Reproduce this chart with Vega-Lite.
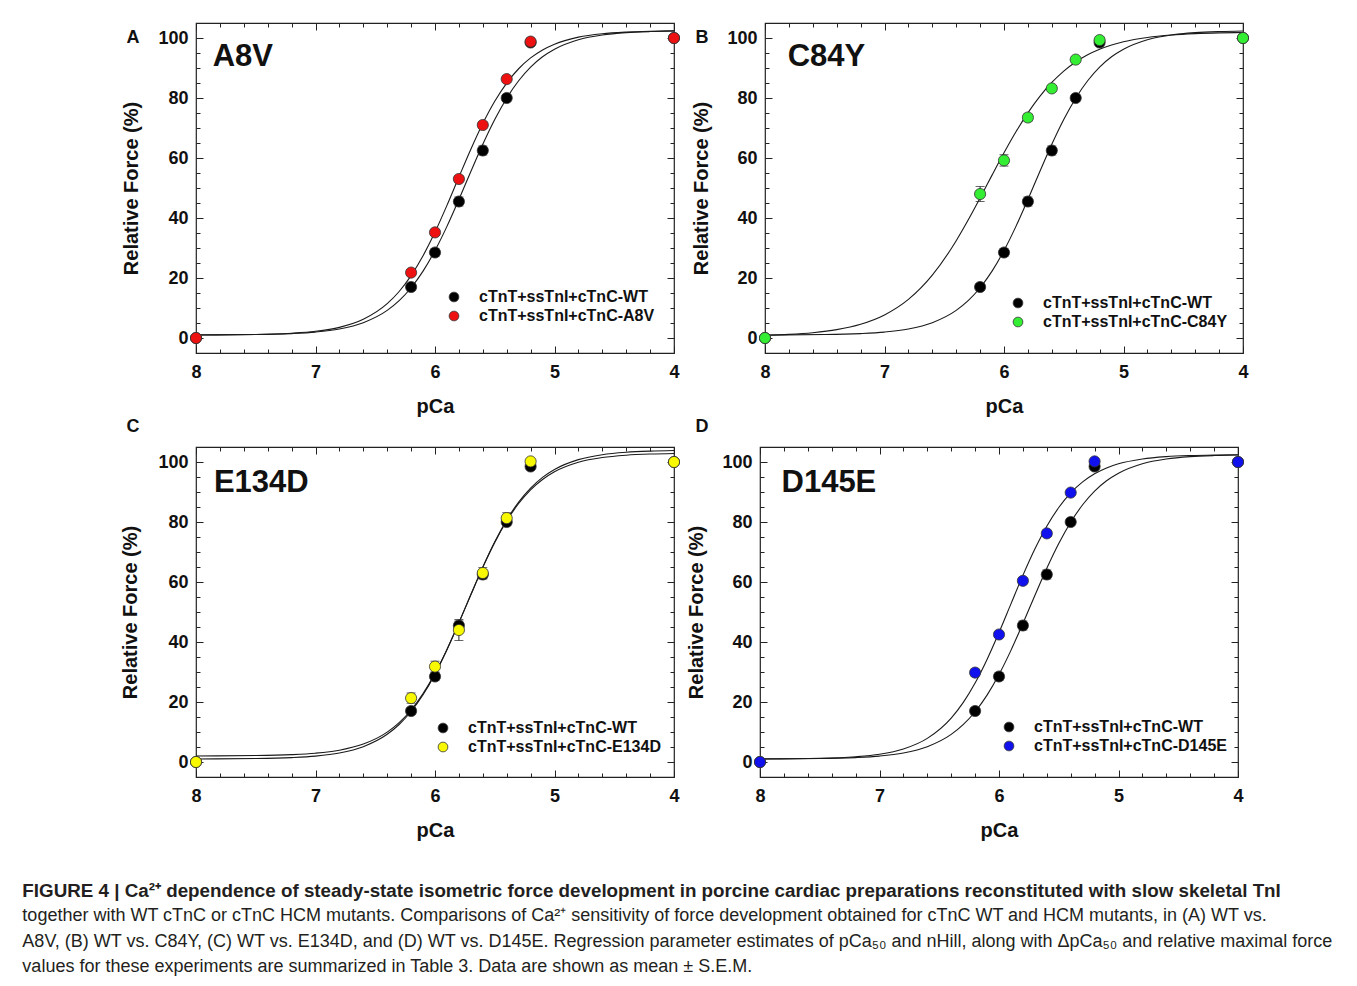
{
  "$schema": "https://vega.github.io/schema/vega-lite/v6.json",
  "padding": {"left": 22, "top": 21, "right": 5, "bottom": 5},
  "background": "white",
  "datasets": {
    "curves": [
      {"p":"ABD","c":"wt","x":8,"y":1.02},{"p":"ABD","c":"wt","x":7.5,"y":1.15},{"p":"ABD","c":"wt","x":7.2,"y":1.47},{"p":"ABD","c":"wt","x":7,"y":1.97},{"p":"ABD","c":"wt","x":6.8,"y":3.0},{"p":"ABD","c":"wt","x":6.6,"y":5.1},{"p":"ABD","c":"wt","x":6.4,"y":9.2},{"p":"ABD","c":"wt","x":6.3,"y":12.44},{"p":"ABD","c":"wt","x":6.2,"y":16.75},{"p":"ABD","c":"wt","x":6.1,"y":22.29},{"p":"ABD","c":"wt","x":6,"y":29.15},{"p":"ABD","c":"wt","x":5.9,"y":37.21},{"p":"ABD","c":"wt","x":5.8,"y":46.17},{"p":"ABD","c":"wt","x":5.7,"y":55.48},{"p":"ABD","c":"wt","x":5.6,"y":64.56},{"p":"ABD","c":"wt","x":5.5,"y":72.83},{"p":"ABD","c":"wt","x":5.4,"y":79.94},{"p":"ABD","c":"wt","x":5.3,"y":85.74},{"p":"ABD","c":"wt","x":5.2,"y":90.29},{"p":"ABD","c":"wt","x":5.1,"y":93.73},{"p":"ABD","c":"wt","x":5,"y":96.26},{"p":"ABD","c":"wt","x":4.8,"y":99.42},{"p":"ABD","c":"wt","x":4.6,"y":101.0},{"p":"ABD","c":"wt","x":4.4,"y":101.78},{"p":"ABD","c":"wt","x":4.2,"y":102.15},{"p":"ABD","c":"wt","x":4,"y":102.33},
      {"p":"A","c":"mut","x":8,"y":1.03},{"p":"A","c":"mut","x":7.5,"y":1.19},{"p":"A","c":"mut","x":7.2,"y":1.59},{"p":"A","c":"mut","x":7,"y":2.23},{"p":"A","c":"mut","x":6.8,"y":3.55},{"p":"A","c":"mut","x":6.6,"y":6.24},{"p":"A","c":"mut","x":6.4,"y":11.45},{"p":"A","c":"mut","x":6.3,"y":15.5},{"p":"A","c":"mut","x":6.2,"y":20.79},{"p":"A","c":"mut","x":6.1,"y":27.4},{"p":"A","c":"mut","x":6,"y":35.3},{"p":"A","c":"mut","x":5.9,"y":44.21},{"p":"A","c":"mut","x":5.8,"y":53.65},{"p":"A","c":"mut","x":5.7,"y":62.93},{"p":"A","c":"mut","x":5.6,"y":71.49},{"p":"A","c":"mut","x":5.5,"y":78.9},{"p":"A","c":"mut","x":5.4,"y":84.97},{"p":"A","c":"mut","x":5.3,"y":89.75},{"p":"A","c":"mut","x":5.2,"y":93.36},{"p":"A","c":"mut","x":5.1,"y":96.02},{"p":"A","c":"mut","x":5,"y":97.95},{"p":"A","c":"mut","x":4.8,"y":100.29},{"p":"A","c":"mut","x":4.6,"y":101.44},{"p":"A","c":"mut","x":4.4,"y":101.99},{"p":"A","c":"mut","x":4.2,"y":102.26},{"p":"A","c":"mut","x":4,"y":102.39},
      {"p":"B","c":"mut","x":8,"y":0.89},{"p":"B","c":"mut","x":7.8,"y":1.2},{"p":"B","c":"mut","x":7.6,"y":1.77},{"p":"B","c":"mut","x":7.4,"y":2.78},{"p":"B","c":"mut","x":7.2,"y":4.58},{"p":"B","c":"mut","x":7,"y":7.69},{"p":"B","c":"mut","x":6.8,"y":12.86},{"p":"B","c":"mut","x":6.6,"y":20.95},{"p":"B","c":"mut","x":6.4,"y":32.44},{"p":"B","c":"mut","x":6.3,"y":39.33},{"p":"B","c":"mut","x":6.2,"y":46.7},{"p":"B","c":"mut","x":6.1,"y":54.29},{"p":"B","c":"mut","x":6,"y":61.73},{"p":"B","c":"mut","x":5.9,"y":68.74},{"p":"B","c":"mut","x":5.8,"y":75.06},{"p":"B","c":"mut","x":5.7,"y":80.55},{"p":"B","c":"mut","x":5.6,"y":85.18},{"p":"B","c":"mut","x":5.5,"y":88.98},{"p":"B","c":"mut","x":5.4,"y":92.01},{"p":"B","c":"mut","x":5.3,"y":94.4},{"p":"B","c":"mut","x":5.2,"y":96.25},{"p":"B","c":"mut","x":5.1,"y":97.68},{"p":"B","c":"mut","x":5,"y":98.76},{"p":"B","c":"mut","x":4.8,"y":100.19},{"p":"B","c":"mut","x":4.6,"y":101.0},{"p":"B","c":"mut","x":4.4,"y":101.45},{"p":"B","c":"mut","x":4.2,"y":101.7},{"p":"B","c":"mut","x":4,"y":101.83},
      {"p":"C","c":"wt","x":8,"y":1.02},{"p":"C","c":"wt","x":7.5,"y":1.16},{"p":"C","c":"wt","x":7.2,"y":1.47},{"p":"C","c":"wt","x":7,"y":1.97},{"p":"C","c":"wt","x":6.8,"y":3.01},{"p":"C","c":"wt","x":6.6,"y":5.12},{"p":"C","c":"wt","x":6.4,"y":9.24},{"p":"C","c":"wt","x":6.3,"y":12.5},{"p":"C","c":"wt","x":6.2,"y":16.83},{"p":"C","c":"wt","x":6.1,"y":22.4},{"p":"C","c":"wt","x":6,"y":29.29},{"p":"C","c":"wt","x":5.9,"y":37.39},{"p":"C","c":"wt","x":5.8,"y":46.39},{"p":"C","c":"wt","x":5.7,"y":55.75},{"p":"C","c":"wt","x":5.6,"y":64.87},{"p":"C","c":"wt","x":5.5,"y":73.19},{"p":"C","c":"wt","x":5.4,"y":80.33},{"p":"C","c":"wt","x":5.3,"y":86.16},{"p":"C","c":"wt","x":5.2,"y":90.73},{"p":"C","c":"wt","x":5.1,"y":94.18},{"p":"C","c":"wt","x":5,"y":96.73},{"p":"C","c":"wt","x":4.8,"y":99.9},{"p":"C","c":"wt","x":4.6,"y":101.49},{"p":"C","c":"wt","x":4.4,"y":102.27},{"p":"C","c":"wt","x":4.2,"y":102.65},{"p":"C","c":"wt","x":4,"y":102.83},
      {"p":"C","c":"mut","x":8,"y":2.02},{"p":"C","c":"mut","x":7.5,"y":2.15},{"p":"C","c":"mut","x":7.2,"y":2.45},{"p":"C","c":"mut","x":7,"y":2.94},{"p":"C","c":"mut","x":6.8,"y":3.94},{"p":"C","c":"mut","x":6.6,"y":5.98},{"p":"C","c":"mut","x":6.4,"y":9.96},{"p":"C","c":"mut","x":6.3,"y":13.13},{"p":"C","c":"mut","x":6.2,"y":17.34},{"p":"C","c":"mut","x":6.1,"y":22.78},{"p":"C","c":"mut","x":6,"y":29.54},{"p":"C","c":"mut","x":5.9,"y":37.53},{"p":"C","c":"mut","x":5.8,"y":46.46},{"p":"C","c":"mut","x":5.7,"y":55.81},{"p":"C","c":"mut","x":5.6,"y":64.99},{"p":"C","c":"mut","x":5.5,"y":73.4},{"p":"C","c":"mut","x":5.4,"y":80.67},{"p":"C","c":"mut","x":5.3,"y":86.64},{"p":"C","c":"mut","x":5.2,"y":91.32},{"p":"C","c":"mut","x":5.1,"y":94.89},{"p":"C","c":"mut","x":5,"y":97.51},{"p":"C","c":"mut","x":4.8,"y":100.79},{"p":"C","c":"mut","x":4.6,"y":102.44},{"p":"C","c":"mut","x":4.4,"y":103.25},{"p":"C","c":"mut","x":4.2,"y":103.64},{"p":"C","c":"mut","x":4,"y":103.83},
      {"p":"D","c":"mut","x":8,"y":1.04},{"p":"D","c":"mut","x":7.5,"y":1.24},{"p":"D","c":"mut","x":7.2,"y":1.75},{"p":"D","c":"mut","x":7,"y":2.59},{"p":"D","c":"mut","x":6.8,"y":4.34},{"p":"D","c":"mut","x":6.6,"y":7.88},{"p":"D","c":"mut","x":6.4,"y":14.65},{"p":"D","c":"mut","x":6.3,"y":19.79},{"p":"D","c":"mut","x":6.2,"y":26.31},{"p":"D","c":"mut","x":6.1,"y":34.18},{"p":"D","c":"mut","x":6,"y":43.15},{"p":"D","c":"mut","x":5.9,"y":52.7},{"p":"D","c":"mut","x":5.8,"y":62.2},{"p":"D","c":"mut","x":5.7,"y":70.97},{"p":"D","c":"mut","x":5.6,"y":78.59},{"p":"D","c":"mut","x":5.5,"y":84.83},{"p":"D","c":"mut","x":5.4,"y":89.72},{"p":"D","c":"mut","x":5.3,"y":93.39},{"p":"D","c":"mut","x":5.2,"y":96.09},{"p":"D","c":"mut","x":5.1,"y":98.02},{"p":"D","c":"mut","x":5,"y":99.4},{"p":"D","c":"mut","x":4.8,"y":101.02},{"p":"D","c":"mut","x":4.6,"y":101.8},{"p":"D","c":"mut","x":4.4,"y":102.17},{"p":"D","c":"mut","x":4.2,"y":102.35},{"p":"D","c":"mut","x":4,"y":102.43}
    ],
    "points": [
      {"p":"ABCD","s":"cTnT+ssTnI+cTnC-WT","x":8,"y":0,"lo":0,"hi":0},
      {"p":"ABCD","s":"cTnT+ssTnI+cTnC-WT","x":6.2,"y":17,"lo":15.8,"hi":18.2},
      {"p":"ABCD","s":"cTnT+ssTnI+cTnC-WT","x":6,"y":28.5,"lo":27.2,"hi":29.8},
      {"p":"ABCD","s":"cTnT+ssTnI+cTnC-WT","x":5.8,"y":45.5,"lo":44,"hi":47},
      {"p":"ABCD","s":"cTnT+ssTnI+cTnC-WT","x":5.6,"y":62.5,"lo":61,"hi":64},
      {"p":"ABCD","s":"cTnT+ssTnI+cTnC-WT","x":5.4,"y":80,"lo":78.8,"hi":81.2},
      {"p":"ABCD","s":"cTnT+ssTnI+cTnC-WT","x":5.2,"y":98.5,"lo":97.5,"hi":99.5},
      {"p":"ABCD","s":"cTnT+ssTnI+cTnC-WT","x":4,"y":100,"lo":100,"hi":100},
      {"p":"A","s":"cTnT+ssTnI+cTnC-A8V","x":8,"y":0,"lo":0,"hi":0},
      {"p":"A","s":"cTnT+ssTnI+cTnC-A8V","x":6.2,"y":21.8,"lo":20.8,"hi":22.8},
      {"p":"A","s":"cTnT+ssTnI+cTnC-A8V","x":6,"y":35.2,"lo":34.2,"hi":36.2},
      {"p":"A","s":"cTnT+ssTnI+cTnC-A8V","x":5.8,"y":53,"lo":52,"hi":54},
      {"p":"A","s":"cTnT+ssTnI+cTnC-A8V","x":5.6,"y":71,"lo":70,"hi":72},
      {"p":"A","s":"cTnT+ssTnI+cTnC-A8V","x":5.4,"y":86.3,"lo":85.3,"hi":87.3},
      {"p":"A","s":"cTnT+ssTnI+cTnC-A8V","x":5.2,"y":98.8,"lo":97.6,"hi":100},
      {"p":"A","s":"cTnT+ssTnI+cTnC-A8V","x":4,"y":100,"lo":100,"hi":100},
      {"p":"B","s":"cTnT+ssTnI+cTnC-C84Y","x":8,"y":0,"lo":0,"hi":0},
      {"p":"B","s":"cTnT+ssTnI+cTnC-C84Y","x":6.2,"y":48,"lo":45.5,"hi":50.5},
      {"p":"B","s":"cTnT+ssTnI+cTnC-C84Y","x":6,"y":59.2,"lo":57.3,"hi":61.1},
      {"p":"B","s":"cTnT+ssTnI+cTnC-C84Y","x":5.8,"y":73.5,"lo":72.3,"hi":74.7},
      {"p":"B","s":"cTnT+ssTnI+cTnC-C84Y","x":5.6,"y":83.2,"lo":82.2,"hi":84.2},
      {"p":"B","s":"cTnT+ssTnI+cTnC-C84Y","x":5.4,"y":92.8,"lo":92,"hi":93.6},
      {"p":"B","s":"cTnT+ssTnI+cTnC-C84Y","x":5.2,"y":99.3,"lo":98.3,"hi":100.3},
      {"p":"B","s":"cTnT+ssTnI+cTnC-C84Y","x":4,"y":100,"lo":100,"hi":100},
      {"p":"C","s":"cTnT+ssTnI+cTnC-E134D","x":8,"y":0,"lo":0,"hi":0},
      {"p":"C","s":"cTnT+ssTnI+cTnC-E134D","x":6.2,"y":21.3,"lo":19.6,"hi":23},
      {"p":"C","s":"cTnT+ssTnI+cTnC-E134D","x":6,"y":31.8,"lo":30,"hi":33.6},
      {"p":"C","s":"cTnT+ssTnI+cTnC-E134D","x":5.8,"y":44,"lo":40.5,"hi":47.5},
      {"p":"C","s":"cTnT+ssTnI+cTnC-E134D","x":5.6,"y":63,"lo":61.2,"hi":64.8},
      {"p":"C","s":"cTnT+ssTnI+cTnC-E134D","x":5.4,"y":81.3,"lo":79.5,"hi":83.1},
      {"p":"C","s":"cTnT+ssTnI+cTnC-E134D","x":5.2,"y":100.2,"lo":99.4,"hi":101},
      {"p":"C","s":"cTnT+ssTnI+cTnC-E134D","x":4,"y":100,"lo":100,"hi":100},
      {"p":"D","s":"cTnT+ssTnI+cTnC-D145E","x":8,"y":0,"lo":0,"hi":0},
      {"p":"D","s":"cTnT+ssTnI+cTnC-D145E","x":6.2,"y":29.8,"lo":28.6,"hi":31},
      {"p":"D","s":"cTnT+ssTnI+cTnC-D145E","x":6,"y":42.5,"lo":41.5,"hi":43.5},
      {"p":"D","s":"cTnT+ssTnI+cTnC-D145E","x":5.8,"y":60.4,"lo":59.4,"hi":61.4},
      {"p":"D","s":"cTnT+ssTnI+cTnC-D145E","x":5.6,"y":76.2,"lo":75.2,"hi":77.2},
      {"p":"D","s":"cTnT+ssTnI+cTnC-D145E","x":5.4,"y":89.8,"lo":89,"hi":90.6},
      {"p":"D","s":"cTnT+ssTnI+cTnC-D145E","x":5.2,"y":100.2,"lo":99.7,"hi":100.7},
      {"p":"D","s":"cTnT+ssTnI+cTnC-D145E","x":4,"y":100,"lo":100,"hi":100}
    ]
  },
  "title": {
    "text": ["FIGURE 4 | Ca²⁺ dependence of steady-state isometric force development in porcine cardiac preparations reconstituted with slow skeletal TnI"],
    "subtitle": [
      "together with WT cTnC or cTnC HCM mutants. Comparisons of Ca²⁺ sensitivity of force development obtained for cTnC WT and HCM mutants, in (A) WT vs.",
      "A8V, (B) WT vs. C84Y, (C) WT vs. E134D, and (D) WT vs. D145E. Regression parameter estimates of pCa₅₀ and nHill, along with ΔpCa₅₀ and relative maximal force",
      "values for these experiments are summarized in Table 3. Data are shown as mean ± S.E.M."
    ],
    "orient": "bottom", "anchor": "start", "frame": "bounds", "dx": -98, "offset": 41,
    "font": "Liberation Sans", "fontSize": 18.8, "fontWeight": "bold", "color": "#231f20",
    "subtitleFont": "Liberation Sans", "subtitleFontSize": 18, "subtitleFontWeight": "normal", "subtitleColor": "#231f20",
    "subtitleLineHeight": 25.5, "subtitlePadding": 7, "lineHeight": 25.5
  },
  "vconcat": [
    {
      "hconcat": [
        {
          "width": 478, "height": 330,
          "layer": [
            {"data": {"name": "curves"}, "transform": [{"filter": "indexof(datum.p,'A')>=0"}],
             "mark": {"type": "line", "interpolate": "monotone", "color": "#1a1a1a", "strokeWidth": 1.1},
             "encoding": {
               "x": {"field": "x", "type": "quantitative", "scale": {"domain": [4, 8], "reverse": true, "nice": false, "zero": false},
                     "axis": {"orient": "bottom", "values": [4,5,6,7,8], "tickSize": 7, "offset": -7, "labelPadding": 10, "labelFlush": false, "title": "pCa", "titlePadding": 15}},
               "y": {"field": "y", "type": "quantitative", "scale": {"domain": [-5, 105], "nice": false, "zero": false},
                     "axis": {"orient": "left", "values": [0,20,40,60,80,100], "tickSize": 7, "offset": -7, "labelPadding": 8, "title": "Relative Force (%)", "titlePadding": 16}},
               "detail": {"field": "c"}}},
            {"data": {"name": "points"}, "transform": [{"filter": "indexof(datum.p,'A')>=0"}],
             "mark": {"type": "rule", "color": "#222", "strokeWidth": 1},
             "encoding": {
               "x": {"field": "x", "type": "quantitative", "axis": {"orient": "bottom", "values": [4.2,4.4,4.6,4.8,5.2,5.4,5.6,5.8,6.2,6.4,6.6,6.8,7.2,7.4,7.6,7.8], "tickSize": 4, "offset": -4, "labels": false, "title": null}},
               "y": {"field": "lo", "type": "quantitative", "axis": {"orient": "left", "values": [5,10,15,25,30,35,45,50,55,65,70,75,85,90,95], "tickSize": 4, "offset": -4, "labels": false, "title": null}},
               "y2": {"field": "hi"}}},
            {"data": {"name": "points"}, "transform": [{"filter": "indexof(datum.p,'A')>=0"}],
             "mark": {"type": "tick", "orient": "horizontal", "size": 9, "thickness": 1, "color": "#222"},
             "encoding": {
               "x": {"field": "x", "type": "quantitative", "axis": {"orient": "top", "values": [4,5,6,7,8], "tickSize": 7, "offset": -7, "labels": false, "title": null}},
               "y": {"field": "lo", "type": "quantitative", "axis": {"orient": "right", "values": [0,20,40,60,80,100], "tickSize": 7, "offset": -7, "labels": false, "title": null}}}},
            {"data": {"name": "points"}, "transform": [{"filter": "indexof(datum.p,'A')>=0"}],
             "mark": {"type": "tick", "orient": "horizontal", "size": 9, "thickness": 1, "color": "#222"},
             "encoding": {
               "x": {"field": "x", "type": "quantitative", "axis": {"orient": "top", "values": [4.2,4.4,4.6,4.8,5.2,5.4,5.6,5.8,6.2,6.4,6.6,6.8,7.2,7.4,7.6,7.8], "tickSize": 4, "offset": -4, "labels": false, "title": null}},
               "y": {"field": "hi", "type": "quantitative", "axis": {"orient": "right", "values": [5,10,15,25,30,35,45,50,55,65,70,75,85,90,95], "tickSize": 4, "offset": -4, "labels": false, "title": null}}}},
            {"data": {"name": "points"}, "transform": [{"filter": "indexof(datum.p,'A')>=0"}],
             "mark": {"type": "point", "shape": "circle", "filled": true, "size": 125, "stroke": "#333", "strokeWidth": 0.8, "opacity": 1},
             "encoding": {
               "x": {"field": "x", "type": "quantitative", "axis": null},
               "y": {"field": "y", "type": "quantitative", "axis": null},
               "fill": {"field": "s", "type": "nominal", "scale": {"domain": ["cTnT+ssTnI+cTnC-WT", "cTnT+ssTnI+cTnC-A8V"], "range": ["#000000", "#ee1111"]},
                        "legend": {"title": null, "orient": "none", "legendX": 250, "legendY": 266}}}},
            {"data": {"values": [{}]},
             "mark": {"type": "text", "align": "left", "baseline": "alphabetic", "fontSize": 31, "fontWeight": "bold", "font": "Liberation Sans", "color": "#111"},
             "encoding": {"x": {"datum": 7.86, "type": "quantitative", "axis": null}, "y": {"datum": 90.7, "type": "quantitative", "axis": null}, "text": {"value": "A8V"}}},
            {"data": {"values": [{}]},
             "mark": {"type": "text", "align": "center", "baseline": "middle", "fontSize": 18, "fontWeight": "bold", "font": "Liberation Sans", "color": "#111"},
             "encoding": {"x": {"datum": 8.527, "type": "quantitative", "axis": null}, "y": {"datum": 100, "type": "quantitative", "axis": null}, "text": {"value": "A"}}}
          ],
          "resolve": {"axis": {"x": "independent", "y": "independent"}}
        },
        {
          "width": 478, "height": 330,
          "layer": [
            {"data": {"name": "curves"}, "transform": [{"filter": "indexof(datum.p,'B')>=0"}],
             "mark": {"type": "line", "interpolate": "monotone", "color": "#1a1a1a", "strokeWidth": 1.1},
             "encoding": {
               "x": {"field": "x", "type": "quantitative", "scale": {"domain": [4, 8], "reverse": true, "nice": false, "zero": false},
                     "axis": {"orient": "bottom", "values": [4,5,6,7,8], "tickSize": 7, "offset": -7, "labelPadding": 10, "labelFlush": false, "title": "pCa", "titlePadding": 15}},
               "y": {"field": "y", "type": "quantitative", "scale": {"domain": [-5, 105], "nice": false, "zero": false},
                     "axis": {"orient": "left", "values": [0,20,40,60,80,100], "tickSize": 7, "offset": -7, "labelPadding": 8, "title": "Relative Force (%)", "titlePadding": 15}},
               "detail": {"field": "c"}}},
            {"data": {"name": "points"}, "transform": [{"filter": "indexof(datum.p,'B')>=0"}],
             "mark": {"type": "rule", "color": "#222", "strokeWidth": 1},
             "encoding": {
               "x": {"field": "x", "type": "quantitative", "axis": {"orient": "bottom", "values": [4.2,4.4,4.6,4.8,5.2,5.4,5.6,5.8,6.2,6.4,6.6,6.8,7.2,7.4,7.6,7.8], "tickSize": 4, "offset": -4, "labels": false, "title": null}},
               "y": {"field": "lo", "type": "quantitative", "axis": {"orient": "left", "values": [5,10,15,25,30,35,45,50,55,65,70,75,85,90,95], "tickSize": 4, "offset": -4, "labels": false, "title": null}},
               "y2": {"field": "hi"}}},
            {"data": {"name": "points"}, "transform": [{"filter": "indexof(datum.p,'B')>=0"}],
             "mark": {"type": "tick", "orient": "horizontal", "size": 9, "thickness": 1, "color": "#222"},
             "encoding": {
               "x": {"field": "x", "type": "quantitative", "axis": {"orient": "top", "values": [4,5,6,7,8], "tickSize": 7, "offset": -7, "labels": false, "title": null}},
               "y": {"field": "lo", "type": "quantitative", "axis": {"orient": "right", "values": [0,20,40,60,80,100], "tickSize": 7, "offset": -7, "labels": false, "title": null}}}},
            {"data": {"name": "points"}, "transform": [{"filter": "indexof(datum.p,'B')>=0"}],
             "mark": {"type": "tick", "orient": "horizontal", "size": 9, "thickness": 1, "color": "#222"},
             "encoding": {
               "x": {"field": "x", "type": "quantitative", "axis": {"orient": "top", "values": [4.2,4.4,4.6,4.8,5.2,5.4,5.6,5.8,6.2,6.4,6.6,6.8,7.2,7.4,7.6,7.8], "tickSize": 4, "offset": -4, "labels": false, "title": null}},
               "y": {"field": "hi", "type": "quantitative", "axis": {"orient": "right", "values": [5,10,15,25,30,35,45,50,55,65,70,75,85,90,95], "tickSize": 4, "offset": -4, "labels": false, "title": null}}}},
            {"data": {"name": "points"}, "transform": [{"filter": "indexof(datum.p,'B')>=0"}],
             "mark": {"type": "point", "shape": "circle", "filled": true, "size": 125, "stroke": "#333", "strokeWidth": 0.8, "opacity": 1},
             "encoding": {
               "x": {"field": "x", "type": "quantitative", "axis": null},
               "y": {"field": "y", "type": "quantitative", "axis": null},
               "fill": {"field": "s", "type": "nominal", "scale": {"domain": ["cTnT+ssTnI+cTnC-WT", "cTnT+ssTnI+cTnC-C84Y"], "range": ["#000000", "#33ee33"]},
                        "legend": {"title": null, "orient": "none", "legendX": 245, "legendY": 272}}}},
            {"data": {"values": [{}]},
             "mark": {"type": "text", "align": "left", "baseline": "alphabetic", "fontSize": 31, "fontWeight": "bold", "font": "Liberation Sans", "color": "#111"},
             "encoding": {"x": {"datum": 7.81, "type": "quantitative", "axis": null}, "y": {"datum": 90.7, "type": "quantitative", "axis": null}, "text": {"value": "C84Y"}}},
            {"data": {"values": [{}]},
             "mark": {"type": "text", "align": "center", "baseline": "middle", "fontSize": 18, "fontWeight": "bold", "font": "Liberation Sans", "color": "#111"},
             "encoding": {"x": {"datum": 8.527, "type": "quantitative", "axis": null}, "y": {"datum": 100, "type": "quantitative", "axis": null}, "text": {"value": "B"}}}
          ],
          "resolve": {"axis": {"x": "independent", "y": "independent"}}
        }
      ],
      "spacing": 9,
      "resolve": {"scale": {"x": "independent", "y": "independent", "fill": "independent"}, "legend": {"fill": "independent"}}
    },
    {
      "hconcat": [
        {
          "width": 478, "height": 330,
          "layer": [
            {"data": {"name": "curves"}, "transform": [{"filter": "datum.p == 'C'"}],
             "mark": {"type": "line", "interpolate": "monotone", "color": "#1a1a1a", "strokeWidth": 1.1},
             "encoding": {
               "x": {"field": "x", "type": "quantitative", "scale": {"domain": [4, 8], "reverse": true, "nice": false, "zero": false},
                     "axis": {"orient": "bottom", "values": [4,5,6,7,8], "tickSize": 7, "offset": -7, "labelPadding": 10, "labelFlush": false, "title": "pCa", "titlePadding": 15}},
               "y": {"field": "y", "type": "quantitative", "scale": {"domain": [-5, 105], "nice": false, "zero": false},
                     "axis": {"orient": "left", "values": [0,20,40,60,80,100], "tickSize": 7, "offset": -7, "labelPadding": 8, "title": "Relative Force (%)", "titlePadding": 17}},
               "detail": {"field": "c"}}},
            {"data": {"name": "points"}, "transform": [{"filter": "indexof(datum.p,'C')>=0"}],
             "mark": {"type": "rule", "color": "#222", "strokeWidth": 1},
             "encoding": {
               "x": {"field": "x", "type": "quantitative", "axis": {"orient": "bottom", "values": [4.2,4.4,4.6,4.8,5.2,5.4,5.6,5.8,6.2,6.4,6.6,6.8,7.2,7.4,7.6,7.8], "tickSize": 4, "offset": -4, "labels": false, "title": null}},
               "y": {"field": "lo", "type": "quantitative", "axis": {"orient": "left", "values": [5,10,15,25,30,35,45,50,55,65,70,75,85,90,95], "tickSize": 4, "offset": -4, "labels": false, "title": null}},
               "y2": {"field": "hi"}}},
            {"data": {"name": "points"}, "transform": [{"filter": "indexof(datum.p,'C')>=0"}],
             "mark": {"type": "tick", "orient": "horizontal", "size": 9, "thickness": 1, "color": "#222"},
             "encoding": {
               "x": {"field": "x", "type": "quantitative", "axis": {"orient": "top", "values": [4,5,6,7,8], "tickSize": 7, "offset": -7, "labels": false, "title": null}},
               "y": {"field": "lo", "type": "quantitative", "axis": {"orient": "right", "values": [0,20,40,60,80,100], "tickSize": 7, "offset": -7, "labels": false, "title": null}}}},
            {"data": {"name": "points"}, "transform": [{"filter": "indexof(datum.p,'C')>=0"}],
             "mark": {"type": "tick", "orient": "horizontal", "size": 9, "thickness": 1, "color": "#222"},
             "encoding": {
               "x": {"field": "x", "type": "quantitative", "axis": {"orient": "top", "values": [4.2,4.4,4.6,4.8,5.2,5.4,5.6,5.8,6.2,6.4,6.6,6.8,7.2,7.4,7.6,7.8], "tickSize": 4, "offset": -4, "labels": false, "title": null}},
               "y": {"field": "hi", "type": "quantitative", "axis": {"orient": "right", "values": [5,10,15,25,30,35,45,50,55,65,70,75,85,90,95], "tickSize": 4, "offset": -4, "labels": false, "title": null}}}},
            {"data": {"name": "points"}, "transform": [{"filter": "indexof(datum.p,'C')>=0"}],
             "mark": {"type": "point", "shape": "circle", "filled": true, "size": 125, "stroke": "#333", "strokeWidth": 0.8, "opacity": 1},
             "encoding": {
               "x": {"field": "x", "type": "quantitative", "axis": null},
               "y": {"field": "y", "type": "quantitative", "axis": null},
               "fill": {"field": "s", "type": "nominal", "scale": {"domain": ["cTnT+ssTnI+cTnC-WT", "cTnT+ssTnI+cTnC-E134D"], "range": ["#000000", "#f8f800"]},
                        "legend": {"title": null, "orient": "none", "legendX": 239, "legendY": 273}}}},
            {"data": {"values": [{}]},
             "mark": {"type": "text", "align": "left", "baseline": "alphabetic", "fontSize": 31, "fontWeight": "bold", "font": "Liberation Sans", "color": "#111"},
             "encoding": {"x": {"datum": 7.85, "type": "quantitative", "axis": null}, "y": {"datum": 90, "type": "quantitative", "axis": null}, "text": {"value": "E134D"}}},
            {"data": {"values": [{}]},
             "mark": {"type": "text", "align": "center", "baseline": "middle", "fontSize": 18, "fontWeight": "bold", "font": "Liberation Sans", "color": "#111"},
             "encoding": {"x": {"datum": 8.527, "type": "quantitative", "axis": null}, "y": {"datum": 111.7, "type": "quantitative", "axis": null}, "text": {"value": "C"}}}
          ],
          "resolve": {"axis": {"x": "independent", "y": "independent"}}
        },
        {
          "width": 478, "height": 330,
          "layer": [
            {"data": {"name": "curves"}, "transform": [{"filter": "indexof(datum.p,'D')>=0"}],
             "mark": {"type": "line", "interpolate": "monotone", "color": "#1a1a1a", "strokeWidth": 1.1},
             "encoding": {
               "x": {"field": "x", "type": "quantitative", "scale": {"domain": [4, 8], "reverse": true, "nice": false, "zero": false},
                     "axis": {"orient": "bottom", "values": [4,5,6,7,8], "tickSize": 7, "offset": -7, "labelPadding": 10, "labelFlush": false, "title": "pCa", "titlePadding": 15}},
               "y": {"field": "y", "type": "quantitative", "scale": {"domain": [-5, 105], "nice": false, "zero": false},
                     "axis": {"orient": "left", "values": [0,20,40,60,80,100], "tickSize": 7, "offset": -7, "labelPadding": 8, "title": "Relative Force (%)", "titlePadding": 15}},
               "detail": {"field": "c"}}},
            {"data": {"name": "points"}, "transform": [{"filter": "indexof(datum.p,'D')>=0"}],
             "mark": {"type": "rule", "color": "#222", "strokeWidth": 1},
             "encoding": {
               "x": {"field": "x", "type": "quantitative", "axis": {"orient": "bottom", "values": [4.2,4.4,4.6,4.8,5.2,5.4,5.6,5.8,6.2,6.4,6.6,6.8,7.2,7.4,7.6,7.8], "tickSize": 4, "offset": -4, "labels": false, "title": null}},
               "y": {"field": "lo", "type": "quantitative", "axis": {"orient": "left", "values": [5,10,15,25,30,35,45,50,55,65,70,75,85,90,95], "tickSize": 4, "offset": -4, "labels": false, "title": null}},
               "y2": {"field": "hi"}}},
            {"data": {"name": "points"}, "transform": [{"filter": "indexof(datum.p,'D')>=0"}],
             "mark": {"type": "tick", "orient": "horizontal", "size": 9, "thickness": 1, "color": "#222"},
             "encoding": {
               "x": {"field": "x", "type": "quantitative", "axis": {"orient": "top", "values": [4,5,6,7,8], "tickSize": 7, "offset": -7, "labels": false, "title": null}},
               "y": {"field": "lo", "type": "quantitative", "axis": {"orient": "right", "values": [0,20,40,60,80,100], "tickSize": 7, "offset": -7, "labels": false, "title": null}}}},
            {"data": {"name": "points"}, "transform": [{"filter": "indexof(datum.p,'D')>=0"}],
             "mark": {"type": "tick", "orient": "horizontal", "size": 9, "thickness": 1, "color": "#222"},
             "encoding": {
               "x": {"field": "x", "type": "quantitative", "axis": {"orient": "top", "values": [4.2,4.4,4.6,4.8,5.2,5.4,5.6,5.8,6.2,6.4,6.6,6.8,7.2,7.4,7.6,7.8], "tickSize": 4, "offset": -4, "labels": false, "title": null}},
               "y": {"field": "hi", "type": "quantitative", "axis": {"orient": "right", "values": [5,10,15,25,30,35,45,50,55,65,70,75,85,90,95], "tickSize": 4, "offset": -4, "labels": false, "title": null}}}},
            {"data": {"name": "points"}, "transform": [{"filter": "indexof(datum.p,'D')>=0"}],
             "mark": {"type": "point", "shape": "circle", "filled": true, "size": 125, "stroke": "#333", "strokeWidth": 0.8, "opacity": 1},
             "encoding": {
               "x": {"field": "x", "type": "quantitative", "axis": null},
               "y": {"field": "y", "type": "quantitative", "axis": null},
               "fill": {"field": "s", "type": "nominal", "scale": {"domain": ["cTnT+ssTnI+cTnC-WT", "cTnT+ssTnI+cTnC-D145E"], "range": ["#000000", "#1111ee"]},
                        "legend": {"title": null, "orient": "none", "legendX": 241, "legendY": 272}}}},
            {"data": {"values": [{}]},
             "mark": {"type": "text", "align": "left", "baseline": "alphabetic", "fontSize": 31, "fontWeight": "bold", "font": "Liberation Sans", "color": "#111"},
             "encoding": {"x": {"datum": 7.82, "type": "quantitative", "axis": null}, "y": {"datum": 90, "type": "quantitative", "axis": null}, "text": {"value": "D145E"}}},
            {"data": {"values": [{}]},
             "mark": {"type": "text", "align": "center", "baseline": "middle", "fontSize": 18, "fontWeight": "bold", "font": "Liberation Sans", "color": "#111"},
             "encoding": {"x": {"datum": 8.485, "type": "quantitative", "axis": null}, "y": {"datum": 111.7, "type": "quantitative", "axis": null}, "text": {"value": "D"}}}
          ],
          "resolve": {"axis": {"x": "independent", "y": "independent"}}
        }
      ],
      "spacing": 4,
      "resolve": {"scale": {"x": "independent", "y": "independent", "fill": "independent"}, "legend": {"fill": "independent"}}
    }
  ],
  "spacing": 0,
  "resolve": {"scale": {"x": "independent", "y": "independent", "fill": "independent"}, "legend": {"fill": "independent"}},
  "config": {
    "font": "Liberation Sans",
    "view": {"stroke": "#222", "strokeWidth": 1.2},
    "axis": {"domain": false, "grid": false, "tickColor": "#222", "tickWidth": 1, "labelFont": "Liberation Sans", "labelFontSize": 18, "labelFontWeight": "bold", "labelColor": "#111", "titleFont": "Liberation Sans", "titleFontSize": 20, "titleFontWeight": "bold", "titleColor": "#111"},
    "legend": {"symbolType": "circle", "symbolSize": 95, "symbolStrokeColor": "#333", "symbolStrokeWidth": 0.8, "labelFont": "Liberation Sans", "labelFontSize": 16, "labelFontWeight": "bold", "labelColor": "#111", "labelOffset": 17, "rowPadding": 3, "padding": 0, "labelLimit": 400}
  }
}
